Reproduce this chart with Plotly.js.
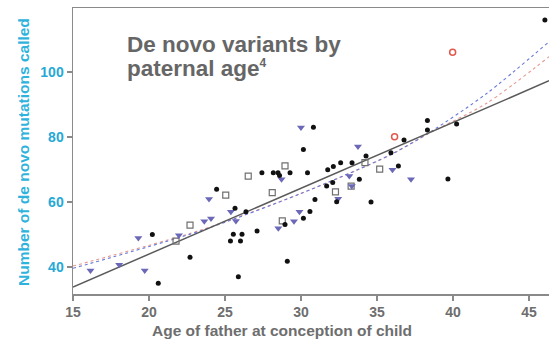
<!DOCTYPE html>
<html>
<head>
<meta charset="utf-8">
<script src="https://cdn.plot.ly/plotly-3.0.1.min.js"></script>
<style>html,body{margin:0;padding:0;background:#fff;}#chart{width:549px;height:341px;}</style>
</head>
<body>
<div id="chart"></div>
<script>
// Black dots
const dotX = [46.05,38.32,38.32,40.24,39.67,36.78,35.92,34.28,30.82,30.16,30.43,31.76,32.13,32.61,33.36,36.41,33.84,32.09,31.69,30.92,32.35,34.61,30.59,30.16,27.43,28.18,28.49,28.59,29.28,24.45,25.66,26.38,28.95,27.11,25.55,26.12,25.36,26.02,29.10,25.88,20.22,22.70,20.61];
const dotY = [116.0,85.1,82.2,84.0,67.1,79.1,75.2,74.2,83.0,76.2,69.0,69.9,70.9,72.1,72.1,71.1,67.0,66.0,64.9,60.8,60.1,60.0,57.1,55.0,69.0,69.0,69.0,68.2,69.0,63.9,58.1,57.0,53.1,51.1,50.1,50.1,48.0,48.0,41.8,37.0,50.0,43.0,35.0];
// Blue down triangles
const triX = [30.0,33.75,33.18,33.34,32.45,36.02,37.24,28.72,23.95,25.39,23.64,24.08,25.72,28.51,29.54,29.9,21.97,19.30,18.04,16.15,19.72];
const triY = [82.9,77.1,68.0,64.9,61.0,69.9,67.0,67.0,60.9,57.0,54.1,54.9,54.2,51.9,54.1,57.0,49.8,48.9,40.7,38.9,38.9];
// Gray open squares
const sqX = [34.21,35.18,33.30,32.27,26.53,28.95,28.11,25.05,22.70,21.78,28.77];
const sqY = [72.1,70.1,64.9,63.1,68.0,71.1,62.9,62.1,52.9,48.0,54.2];
// Red open circles
const redX = [39.98,36.16];
const redY = [106.1,80.1];
// Linear fit (solid)
const fitX = [15, 29.93, 46.32];
const fitY = [33.85, 64.1, 97.3];
// Curved fits (dotted)
const curveX = [15, 23.36, 29.93, 35.86, 38.49, 42.22, 46.32];
const blueY = [39.6, 51.1, 62.5, 74.5, 81.5, 93.4, 109.3];
const pinkY = [40.3, 51.3, 62.5, 74.4, 81.3, 90.4, 104.7];
const xTicks = [15,20,25,30,35,40,45];
const yTicks = [40,60,80,100];

const traces = [
  {x: curveX, y: pinkY, mode:'lines', line:{color:'#e59a92', width:1.1, dash:'dot', shape:'spline', smoothing:0.8}, hoverinfo:'skip'},
  {x: curveX, y: blueY, mode:'lines', line:{color:'#6a7ad8', width:1.1, dash:'dot', shape:'spline', smoothing:0.8}, hoverinfo:'skip'},
  {x: fitX, y: fitY, mode:'lines', line:{color:'#5a5a5a', width:1.5}, hoverinfo:'skip'},
  {x: sqX, y: sqY, mode:'markers', marker:{symbol:'square-open', size:6, color:'#707070', line:{width:1.2}}},
  {x: triX, y: triY, mode:'markers', marker:{symbol:'triangle-down', size:7, color:'#6b68b8'}},
  {x: dotX, y: dotY, mode:'markers', marker:{symbol:'circle', size:5, color:'#111111'}},
  {x: redX, y: redY, mode:'markers', marker:{symbol:'circle-open', size:6, color:'#e0584c', line:{width:1.5}}}
];

const font = 'Liberation Sans, Arial, sans-serif';
const layout = {
  width:549, height:341,
  margin:{l:73, r:0, t:8, b:47},
  showlegend:false,
  paper_bgcolor:'#ffffff', plot_bgcolor:'#ffffff',
  xaxis:{range:[15,46.32], tickvals:xTicks, ticktext:xTicks.map(String),
    showgrid:false, zeroline:false, showline:true, mirror:true, linecolor:'#8a8a8a', linewidth:1.5,
    ticks:'outside', ticklen:5, tickcolor:'#8a8a8a', tickwidth:1.2,
    tickfont:{family:font, size:14, color:'#6e6e6e', weight:'bold'}},
  yaxis:{range:[31.7,119.7], tickvals:yTicks, ticktext:yTicks.map(String),
    showgrid:false, zeroline:false, showline:true, linecolor:'#8a8a8a', linewidth:1.5,
    ticks:'outside', ticklen:5, tickcolor:'#8a8a8a', tickwidth:1.2,
    tickfont:{family:font, size:14, color:'#27a9d6', weight:'bold'}},
  annotations:[
    {xref:'paper', yref:'paper', x:(125-73)/476, y:(294-30)/286, xanchor:'left', yanchor:'top',
     text:'<b>De novo variants by</b>', showarrow:false, font:{family:font, size:22.5, color:'#666666'}},
    {xref:'paper', yref:'paper', x:(125-73)/476, y:(294-54)/286, xanchor:'left', yanchor:'top',
     text:'<b>paternal age<sup><span style="font-size:12px">4</span></sup></b>', showarrow:false, font:{family:font, size:22.5, color:'#666666'}},
    {xref:'paper', yref:'paper', x:(281.5-73)/476, y:(294-330)/286, xanchor:'center', yanchor:'middle',
     text:'<b>Age of father at conception of child</b>', showarrow:false, font:{family:font, size:15.5, color:'#6e6e6e'}},
    {xref:'paper', yref:'paper', x:(23-73)/476, y:(294-152)/286, xanchor:'center', yanchor:'middle', textangle:-90,
     text:'<b>Number of de novo mutations called</b>', showarrow:false, font:{family:font, size:15.5, color:'#2fb3dc'}}
  ]
};
Plotly.newPlot('chart', traces, layout, {displayModeBar:false, staticPlot:true});
</script>
</body>
</html>
